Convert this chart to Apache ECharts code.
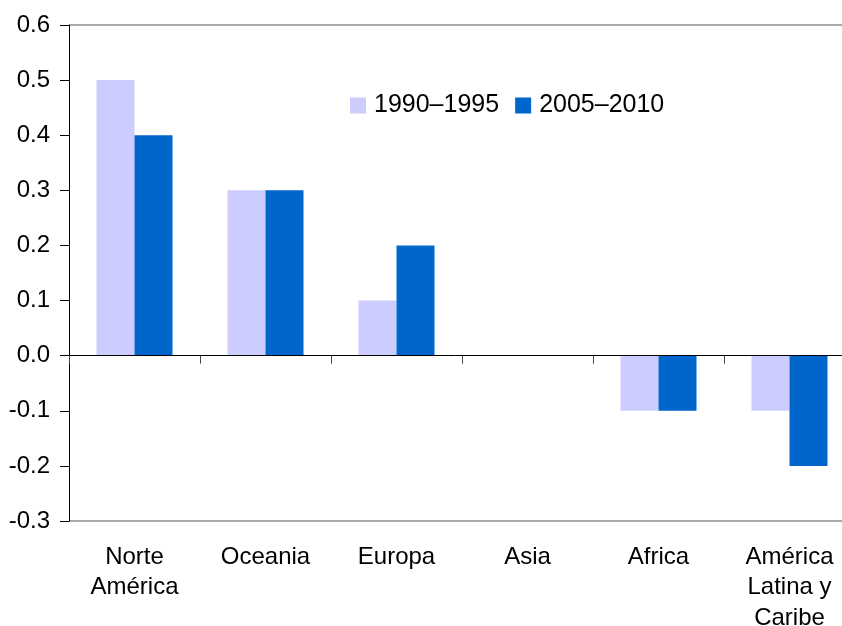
<!DOCTYPE html>
<html>
<head>
<meta charset="utf-8">
<script src="https://cdn.jsdelivr.net/npm/echarts@6/dist/echarts.min.js"></script>
<style>
  html, body { margin: 0; padding: 0; background: #fff; }
  #chart { width: 842px; height: 626px; }
</style>
</head>
<body>
<div id="chart"></div>
<script>
// categorías y valores
const regiones = ['Norte\nAmérica', 'Oceania', 'Europa', 'Asia', 'Africa', 'América\nLatina y\nCaribe']
const serie1990 = [0.5, 0.3, 0.1, 0.0, -0.1, -0.1]
const serie2005 = [0.4, 0.3, 0.2, 0.0, -0.1, -0.2]
const nombres = ['1990–1995', '2005–2010']

const font = 'Liberation Sans, Arial, sans-serif'
const chart = echarts.init(document.getElementById('chart'))

// sólo la primera (-0.3) y la última (0.6) línea en gris
const splitColors = Array.from({ length: 10 }, (_, i) => (i === 0 || i === 9 ? '#8c8c8c' : 'transparent'))

chart.setOption({
  animation: false,
  grid: [
    { left: 69, right: -13, top: 25, bottom: 105, outerBoundsMode: 'none', containLabel: false },
    // segunda rejilla sólo para la línea del cero y sus marcas
    { left: 69, right: -13, top: 355.67, bottom: 105, outerBoundsMode: 'none', containLabel: false },
  ],
  legend: {
    data: nombres,
    left: 350, top: 93, padding: 0,
    itemWidth: 16, itemHeight: 16, itemGap: 16,
    icon: 'rect',
    textStyle: { fontFamily: font, fontSize: 25, color: '#000', padding: [0, 0, 0, 3] },
  },
  xAxis: [
    {
      gridIndex: 0, type: 'category', data: regiones, position: 'bottom',
      axisLine: { show: false, onZero: false }, axisTick: { show: false },
      axisLabel: { fontFamily: font, fontSize: 24, color: '#000', lineHeight: 30.5, margin: 21, interval: 0 },
    },
    {
      gridIndex: 1, type: 'category', data: regiones, position: 'top', z: 5,
      axisLine: { onZero: false, lineStyle: { color: '#000', width: 1 } },
      axisTick: { show: true, inside: true, length: 8, lineStyle: { color: '#444' } },
      axisLabel: { show: false },
    },
  ],
  yAxis: [
    {
      gridIndex: 0, type: 'value', min: -0.3, max: 0.6, interval: 0.1,
      axisLine: { show: true, lineStyle: { color: '#000', width: 1 } },
      axisTick: { show: true, length: 9, lineStyle: { color: '#000' } },
      axisLabel: { fontFamily: font, fontSize: 24, color: '#000', margin: 19,
        formatter: (v) => v.toFixed(1) },
      splitLine: { show: true, lineStyle: { color: splitColors, width: 1.5 } },
    },
    { gridIndex: 1, type: 'value', show: false },
  ],
  series: [
    { name: nombres[0], type: 'bar', data: serie1990, barWidth: 38, barGap: '0%',
      itemStyle: { color: '#ccccff' } },
    { name: nombres[1], type: 'bar', data: serie2005, barWidth: 38, barGap: '0%',
      itemStyle: { color: '#0066cc' } },
  ],
})
</script>
</body>
</html>
